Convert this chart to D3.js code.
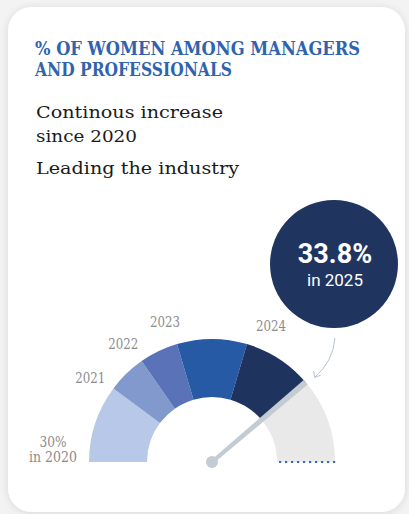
<!DOCTYPE html>
<html>
<head>
<meta charset="utf-8">
<script src="https://cdn.jsdelivr.net/npm/d3@7"></script>
<style>
  html, body { margin: 0; padding: 0; background: #f3f3f3; }
  svg { display: block; }
</style>
</head>
<body>
<svg id="chart" width="409" height="514"></svg>
<script>
// Share of women among managers and professionals, by year
const years = [2020, 2021, 2022, 2023, 2024, 2025];
const shares = [30, 31, 31.5, 32, 32.9, 33.8];
const gaugeRange = [30, 34.9];
const segmentColors = ["#b7c8e8", "#8199cd", "#5a72b7", "#275aa5", "#1f335f"];
const yearLabels = ["30%", "2021", "2022", "2023", "2024"];
const titleLines = ["% OF WOMEN AMONG MANAGERS", "AND PROFESSIONALS"];
const bodyLines = ["Continous increase", "since 2020", "Leading the industry"];

const svg = d3.select("#chart");
const defs = svg.append("defs");

// soft shadow round the card
const shadow = defs.append("filter").attr("id", "cardShadow")
  .attr("x", "-10%").attr("y", "-10%").attr("width", "120%").attr("height", "120%");
shadow.append("feGaussianBlur").attr("in", "SourceAlpha").attr("stdDeviation", 4);
shadow.append("feOffset").attr("dx", 0).attr("dy", 1).attr("result", "blur");
shadow.append("feComponentTransfer").append("feFuncA").attr("type", "linear").attr("slope", 0.12);
const merge = shadow.append("feMerge");
merge.append("feMergeNode");
merge.append("feMergeNode").attr("in", "SourceGraphic");

svg.append("rect")
  .attr("x", 8).attr("y", 7).attr("width", 397).attr("height", 505)
  .attr("rx", 24).attr("fill", "#ffffff")
  .attr("filter", "url(#cardShadow)");

// heading
const titleFont = "'DejaVu Serif', serif";
const titleWidths = [325, 197];
svg.selectAll("text.title").data(titleLines).join("text")
  .attr("class", "title")
  .attr("x", 35).attr("y", (d, i) => 55 + i * 21)
  .attr("font-family", titleFont).attr("font-weight", "bold")
  .attr("font-size", 18).attr("fill", "#2f63ae")
  .attr("textLength", (d, i) => titleWidths[i]).attr("lengthAdjust", "spacingAndGlyphs")
  .text(d => d);

const bodyY = [118, 142, 174];
const bodyWidths = [187, 101, 203];
svg.selectAll("text.body").data(bodyLines).join("text")
  .attr("class", "body")
  .attr("x", 36).attr("y", (d, i) => bodyY[i])
  .attr("font-family", titleFont)
  .attr("font-size", 17.5).attr("fill", "#1a1a1a")
  .attr("textLength", (d, i) => bodyWidths[i]).attr("lengthAdjust", "spacingAndGlyphs")
  .text(d => d);

// gauge
const cx = 212, cy = 462, rOuter = 123, rInner = 65;
const angle = d3.scaleLinear().domain(gaugeRange).range([-Math.PI / 2, Math.PI / 2]);
const arc = d3.arc().innerRadius(rInner).outerRadius(rOuter);
const g = svg.append("g").attr("transform", `translate(${cx},${cy})`);

const last = shares[shares.length - 1];
g.append("path")
  .attr("d", arc({ startAngle: angle(last), endAngle: angle(gaugeRange[1]) }))
  .attr("fill", "#e9e9e9");

const segments = d3.range(shares.length - 1).map(i => ({
  year: years[i], start: shares[i], end: shares[i + 1], color: segmentColors[i]
}));
g.selectAll("path.seg").data(segments).join("path")
  .attr("class", "seg")
  .attr("d", d => arc({ startAngle: angle(d.start), endAngle: angle(d.end) }))
  .attr("fill", d => d.color);

// dotted baseline on the unfilled end
g.append("line")
  .attr("x1", rInner + 2).attr("x2", rOuter + 1).attr("y1", 0).attr("y2", 0)
  .attr("stroke", "#3566bd").attr("stroke-width", 2.2)
  .attr("stroke-dasharray", "2.2,3.8");

// needle
const a = angle(last);
const tipX = rOuter * Math.sin(a), tipY = -rOuter * Math.cos(a);
const nx = Math.cos(a), ny = Math.sin(a);
const needle = d3.path();
needle.moveTo(-2 * nx, -2 * ny);
needle.lineTo(tipX - 3 * nx, tipY - 3 * ny);
needle.lineTo(tipX + 3 * nx, tipY + 3 * ny);
needle.lineTo(2 * nx, 2 * ny);
needle.closePath();
g.append("path").attr("d", needle.toString()).attr("fill", "#c3cbd3");
g.append("circle").attr("r", 6).attr("fill", "#c3cbd3");

// year labels
const labelFont = "'DejaVu Serif', serif";
const labelColor = "#8c8c8c";
const labelR = 148;
const deg = Math.PI / 180;
yearLabels.forEach((lab, i) => {
  const v = shares[i];
  if (i === 0) {
    const x = -(rOuter + 36);
    g.append("text").attr("x", x).attr("y", -15).attr("text-anchor", "middle")
      .attr("font-family", labelFont).attr("font-size", 14).attr("fill", labelColor)
      .attr("textLength", 27).attr("lengthAdjust", "spacingAndGlyphs").text(lab);
    g.append("text").attr("x", x).attr("y", 0).attr("text-anchor", "middle")
      .attr("font-family", labelFont).attr("font-size", 14).attr("fill", labelColor)
      .attr("textLength", 48).attr("lengthAdjust", "spacingAndGlyphs").text("in " + years[0]);
    return;
  }
  const t = angle(v) + (angle(v) < 0 ? -2 : 7) * deg;
  g.append("text")
    .attr("x", labelR * Math.sin(t)).attr("y", -labelR * Math.cos(t) + 5)
    .attr("text-anchor", "middle")
    .attr("font-family", labelFont).attr("font-size", 14).attr("fill", labelColor)
    .attr("textLength", 30).attr("lengthAdjust", "spacingAndGlyphs")
    .text(lab);
});

// call-out bubble for the latest year
const bx = 334, by = 264, br = 64;
svg.append("circle").attr("cx", bx).attr("cy", by).attr("r", br).attr("fill", "#1f3560");
svg.append("text").attr("x", bx + 1).attr("y", 263).attr("text-anchor", "middle")
  .attr("font-family", "Roboto, sans-serif").attr("font-weight", "bold")
  .attr("font-size", 27).attr("fill", "#ffffff")
  .text(d3.format(".1f")(last) + "%");
svg.append("text").attr("x", bx + 1).attr("y", 286).attr("text-anchor", "middle")
  .attr("font-family", "Roboto, sans-serif")
  .attr("font-size", 17).attr("fill", "#ffffff")
  .text("in " + years[years.length - 1]);

// connector arrow from bubble to needle tip
const ax0 = bx + 1, ay0 = by + br + 10;
const ax1 = cx + tipX + 9, ay1 = cy + tipY - 5;
svg.append("path")
  .attr("d", `M${ax0},${ay0} Q${ax0 - 2},${ay0 + 24} ${ax1},${ay1}`)
  .attr("fill", "none").attr("stroke", "#b9c4d0").attr("stroke-width", 1);
svg.append("path")
  .attr("d", `M${ax1 - 1},${ay1 - 6} L${ax1},${ay1} L${ax1 + 6},${ay1 - 2}`)
  .attr("fill", "none").attr("stroke", "#b9c4d0").attr("stroke-width", 1);
</script>
</body>
</html>
